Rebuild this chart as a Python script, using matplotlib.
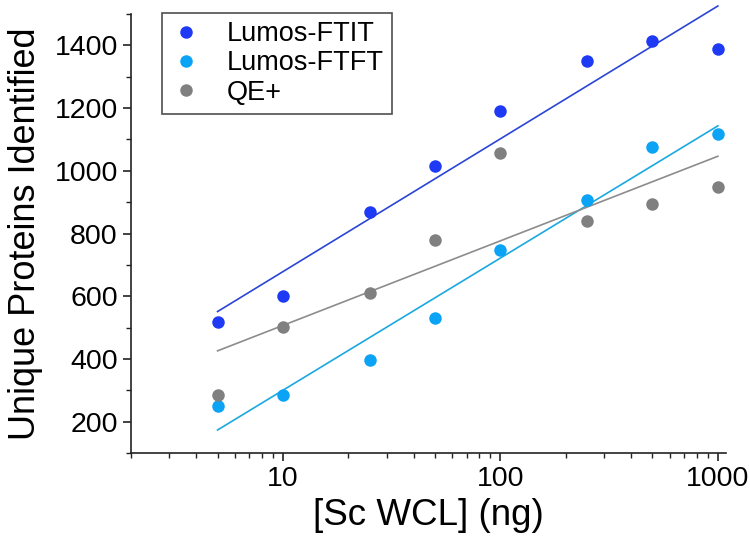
import matplotlib
matplotlib.use("Agg")
import matplotlib.pyplot as plt
from matplotlib.ticker import LogLocator, MultipleLocator, FixedLocator, FixedFormatter, NullFormatter
import numpy as np

plt.rcParams['font.family'] = ['Liberation Sans', 'DejaVu Sans']

# amounts of Sc whole cell lysate (ng)
amount_ng = [5, 10, 25, 50, 100, 250, 500, 1000]

# unique proteins identified
lumos_ftit = [519, 602, 868, 1014, 1192, 1350, 1414, 1389]
lumos_ftft = [250, 285, 398, 529, 746, 907, 1075, 1118]
qe_plus = [284, 503, 610, 779, 1057, 841, 893, 948]

series_names = ['Lumos-FTIT', 'Lumos-FTFT', 'QE+']
marker_colors = ['#1f3af5', '#0ba3f5', '#808080']
line_colors = ['#2b45d6', '#1aa8e0', '#8c8c8c']

fig = plt.figure(figsize=(7.5, 5.46), dpi=100)
ax = fig.add_axes([0.1747, 0.1703, 0.7933, 0.804])

x = np.array(amount_ng, dtype=float)
logx = np.log10(x)
for values, name, mc, lc in zip([lumos_ftit, lumos_ftft, qe_plus], series_names,
                                marker_colors, line_colors):
    y = np.array(values, dtype=float)
    ax.plot(x, y, 'o', color=mc, markersize=9, markeredgewidth=0, label=name, zorder=3)
    # linear fit of counts against log amount
    slope, intercept = np.polyfit(logx, y, 1)
    xf = np.array([x.min(), x.max()])
    ax.plot(xf, slope * np.log10(xf) + intercept, '-', color=lc, linewidth=1.2, zorder=2,
            clip_on=False)

ax.set_xscale('log')
ax.set_xlim(2, 1090)
ax.set_ylim(100, 1500)

ax.xaxis.set_major_locator(FixedLocator([10, 100, 1000]))
ax.xaxis.set_major_formatter(FixedFormatter(['10', '100', '1000']))
ax.xaxis.set_minor_locator(LogLocator(base=10, subs=np.arange(2, 10), numticks=20))
ax.xaxis.set_minor_formatter(NullFormatter())
ax.yaxis.set_major_locator(FixedLocator([200, 400, 600, 800, 1000, 1200, 1400]))
ax.yaxis.set_minor_locator(MultipleLocator(100))

for side in ['top', 'right']:
    ax.spines[side].set_visible(False)
for side in ['left', 'bottom']:
    ax.spines[side].set_linewidth(1.2)
    ax.spines[side].set_color('#222222')

ax.tick_params(which='major', direction='out', length=5.5, width=1.2, labelsize=20.5,
               color='#222222', pad=4)
ax.tick_params(which='minor', direction='out', length=3.5, width=1.0, color='#222222')

ax.set_xlabel('[Sc WCL] (ng)', fontsize=26.5, labelpad=4)
ax.set_ylabel('Unique Proteins Identified', fontsize=26, labelpad=8)

leg = ax.legend(loc='upper left', bbox_to_anchor=(0.216, 0.976), bbox_transform=fig.transFigure,
                borderaxespad=0, fontsize=19.5, frameon=True, fancybox=False,
                edgecolor='#222222', borderpad=0.3, handletextpad=0.9, labelspacing=0.12,
                handlelength=1.2)
leg.get_frame().set_linewidth(1.2)

fig.savefig('out.png', dpi=100)
